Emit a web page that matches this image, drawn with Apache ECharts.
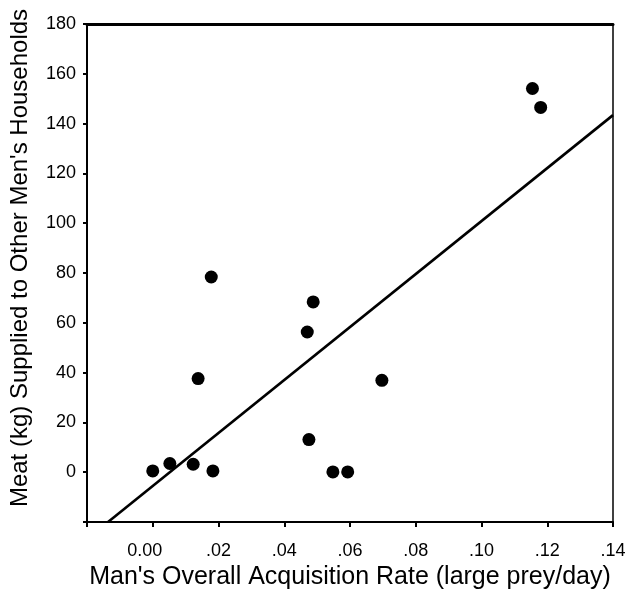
<!DOCTYPE html>
<html><head><meta charset="utf-8">
<script src="https://cdn.jsdelivr.net/npm/echarts@6/dist/echarts.min.js"></script>
<style>html,body{margin:0;padding:0;background:#fff}#c{width:629px;height:596px}</style>
</head><body><div id="c"></div>
<script>
// Data
const acqRate = [0.0000, 0.0052, 0.0123, 0.0138, 0.0178, 0.0183, 0.0470, 0.0475, 0.0488, 0.0548, 0.0593, 0.0697, 0.1155, 0.1180];
const meatShared = [0.5, 3.5, 3.2, 37.6, 78.4, 0.5, 56.3, 13.1, 68.4, 0.1, 0.1, 36.9, 154.1, 146.5];
const fitX = [-0.0136, 0.14];
const fitY = [-20, 143.4];
const xTicks = [-0.02, 0, 0.02, 0.04, 0.06, 0.08, 0.10, 0.12, 0.14];
const yTicks = [-20, 0, 20, 40, 60, 80, 100, 120, 140, 160, 180];

const FONT = 'Liberation Sans, Arial, sans-serif';
const chart = echarts.init(document.getElementById('c'));
const fmtX = v => {
  if (v < -1e-9) return '';
  if (Math.abs(v) < 1e-9) return '{z|0.00}';
  return '.' + String(Math.round(v * 100)).padStart(2, '0');
};
chart.setOption({
  animation: false,
  backgroundColor: '#fff',
  grid: { left: 85, right: 16, top: 24, bottom: 74, containLabel: false },
  xAxis: [{
    type: 'value', min: xTicks[0], max: xTicks[xTicks.length - 1], interval: 0.02,
    name: "Man's Overall Acquisition Rate (large prey/day)",
    nameLocation: 'middle', nameGap: 38,
    nameTextStyle: { fontFamily: FONT, fontSize: 25, color: '#000' },
    axisLine: { show: true, onZero: false, lineStyle: { color: '#000', width: 2 } },
    axisTick: { show: true, length: 5, lineStyle: { color: '#000', width: 2 } },
    axisLabel: {
      formatter: fmtX, margin: 20, fontFamily: FONT, fontSize: 18, color: '#000',
      rich: { z: { fontFamily: FONT, fontSize: 18, color: '#000', padding: [0, 16, 0, 0] } }
    },
    splitLine: { show: false }
  }, {
    type: 'value', position: 'top', min: xTicks[0], max: xTicks[xTicks.length - 1],
    axisLine: { show: true, onZero: false, lineStyle: { color: '#000', width: 3 } },
    axisTick: { show: false }, axisLabel: { show: false }, splitLine: { show: false }
  }],
  yAxis: [{
    type: 'value', min: yTicks[0], max: yTicks[yTicks.length - 1], interval: 20,
    name: "Meat (kg) Supplied to Other Men's Households",
    nameLocation: 'middle', nameGap: 55,
    nameTextStyle: { fontFamily: FONT, fontSize: 24, color: '#000', padding: [0, 0, 0, 30] },
    axisLine: { show: true, onZero: false, lineStyle: { color: '#000', width: 2 } },
    axisTick: { show: true, length: 4, lineStyle: { color: '#000', width: 2 } },
    axisLabel: { formatter: v => (v < 0 ? '' : String(v)), margin: 11, fontFamily: FONT, fontSize: 18, color: '#000' },
    splitLine: { show: false }
  }, {
    type: 'value', position: 'right', min: yTicks[0], max: yTicks[yTicks.length - 1],
    axisLine: { show: true, onZero: false, lineStyle: { color: '#000', width: 1.5 } },
    axisTick: { show: false }, axisLabel: { show: false }, splitLine: { show: false }
  }],
  series: [{
    type: 'line',
    data: fitX.map((x, i) => [x, fitY[i]]),
    symbol: 'none', clip: true,
    lineStyle: { color: '#000', width: 2.6 }
  }, {
    type: 'scatter',
    data: acqRate.map((x, i) => [x, meatShared[i]]),
    symbol: 'circle', symbolSize: 13,
    itemStyle: { color: '#000', opacity: 1 }
  }]
});
</script></body></html>
